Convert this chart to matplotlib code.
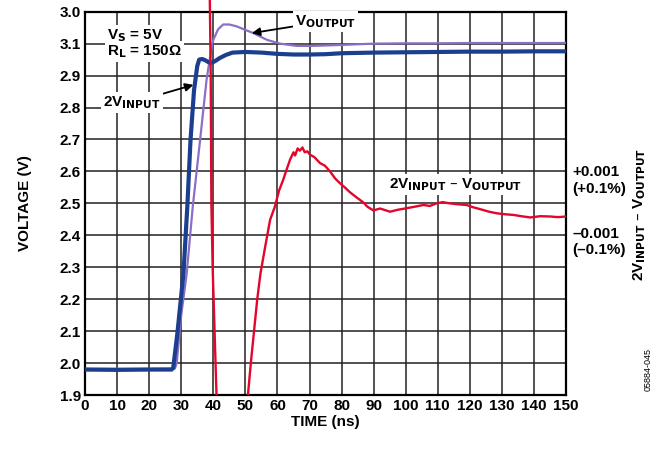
import matplotlib
matplotlib.use("Agg")
import matplotlib.pyplot as plt
from matplotlib.patches import Rectangle

plt.rcParams['font.family'] = ['Liberation Sans', 'DejaVu Sans']
plt.rcParams['font.weight'] = 'bold'
plt.rcParams['mathtext.default'] = 'bf'

# 2V_INPUT trace
t_in = [0, 10, 20, 27, 27.5, 28.8, 30.7, 31.9, 32.9, 34.0, 35.0, 35.6, 36.5, 37.5,
        38.5, 39.5, 40.5, 42, 44, 46, 50, 55, 60, 65, 70, 75, 80, 90, 100, 110,
        120, 130, 140, 150]
v_in = [1.98, 1.979, 1.98, 1.98, 1.985, 2.093, 2.281, 2.49, 2.699, 2.855, 2.93, 2.95,
        2.952, 2.948, 2.942, 2.94, 2.945, 2.955, 2.965, 2.972, 2.974, 2.972, 2.968,
        2.966, 2.966, 2.967, 2.97, 2.972, 2.973, 2.974, 2.975, 2.975, 2.976, 2.976]

# V_OUTPUT trace
t_out = [0, 10, 20, 28, 28.6, 30, 31.7, 33.6, 35.9, 37.9, 39.5, 40.0, 41.5, 43.1, 45,
         47.3, 50, 52.5, 56.7, 60.8, 66, 71.2, 80, 90, 100, 110, 120, 130, 140, 150]
v_out = [1.982, 1.982, 1.982, 1.983, 2.0, 2.15, 2.28, 2.49, 2.70, 2.887, 2.99, 3.012,
         3.045, 3.06, 3.06, 3.054, 3.043, 3.033, 3.012, 3.0, 2.993, 2.993, 2.996, 3.0,
         3.001, 3.001, 3.002, 3.002, 3.002, 3.002]

# 2V_INPUT - V_OUTPUT (plotted on the voltage grid, 2.5 = 0)
t_diff = [38.9, 39.2, 39.4, 39.8, 40.4, 41.0, 41.4, 45.0, 50.3, 50.8, 51.7, 52.7, 53.7,
          54.7, 56.1, 57.7, 59.2, 60.5, 61.8, 63.0, 63.9, 65.0, 65.5, 66.3, 67.0, 67.8,
          68.5, 69.3, 70.2, 71.5, 73.3, 74.8, 76.4, 78.0, 79.5, 81.0, 82.6, 84.5, 86.8,
          88.0, 89.9, 92.0, 95.1, 97.5, 100.3, 103.0, 105.5, 107.5, 109.6, 111.5, 113.8,
          116.5, 119.0, 121.0, 123.2, 126.0, 128.4, 131.0, 133.5, 136.0, 138.8, 142.0,
          145.0, 147.5, 150.0]
v_diff = [3.15, 2.9, 2.5, 2.3, 2.1, 1.9, 1.8, 1.0, 1.8, 1.9, 2.0, 2.1, 2.2, 2.28, 2.36,
          2.448, 2.49, 2.54, 2.574, 2.61, 2.636, 2.66, 2.65, 2.672, 2.665, 2.675, 2.66,
          2.663, 2.652, 2.645, 2.626, 2.618, 2.6, 2.578, 2.563, 2.55, 2.535, 2.52, 2.503,
          2.49, 2.478, 2.484, 2.474, 2.48, 2.485, 2.49, 2.495, 2.492, 2.50, 2.504, 2.50,
          2.497, 2.495, 2.488, 2.482, 2.474, 2.469, 2.466, 2.464, 2.46, 2.456, 2.46,
          2.459, 2.457, 2.459]

y_ticks = [1.9, 2.0, 2.1, 2.2, 2.3, 2.4, 2.5, 2.6, 2.7, 2.8, 2.9, 3.0, 3.1]
y_labels = ['1.9', '2.0', '2.1', '2.2', '2.3', '2.4', '2.5', '2.6', '2.7', '2.8',
            '2.9', '3.1', '3.0']
x_ticks = list(range(0, 151, 10))

fs = 11
fig = plt.figure(figsize=(6.59, 4.5), dpi=100)
ax = fig.add_axes([0.129, 0.122, 0.730, 0.852])

ax.plot(t_out, v_out, color='#8B6FC4', lw=1.6, zorder=3)
ax.plot(t_in, v_in, color='#1B3E8E', lw=3.0, zorder=4)
red, = ax.plot(t_diff, v_diff, color='#E2062C', lw=1.7, zorder=5)
red.set_clip_path(Rectangle((0, 0), 1, 1.1, transform=ax.transAxes))

ax.set_xlim(0, 150)
ax.set_ylim(1.9, 3.1)
ax.set_xticks(x_ticks)
ax.set_yticks(y_ticks)
ax.set_yticklabels(y_labels)
ax.tick_params(length=0, labelsize=fs, pad=3)
for lab in ax.get_xticklabels() + ax.get_yticklabels():
    lab.set_fontweight('bold')
ax.grid(True, color='#222222', lw=1.1)
ax.set_axisbelow(True)
for sp in ax.spines.values():
    sp.set_linewidth(1.6)

ax.set_xlabel('TIME (ns)', fontsize=fs, fontweight='bold', labelpad=1)
ax.set_ylabel('VOLTAGE (V)', fontsize=fs, fontweight='bold', labelpad=20)

box = dict(facecolor='white', edgecolor='none', pad=1.5)
ax.text(6.9, 3.025, r'V$_S$ = 5V', fontsize=fs, fontweight='bold',
        va='center', ha='left', bbox=box, zorder=6)
ax.text(6.9, 2.975, r'R$_L$ = 150Ω', fontsize=fs, fontweight='bold',
        va='center', ha='left', bbox=box, zorder=6)
ax.annotate(r'2V$_{INPUT}$', xy=(33.8, 2.871), xytext=(5.6, 2.815),
            fontsize=fs, fontweight='bold', va='center', ha='left', bbox=box, zorder=6,
            arrowprops=dict(arrowstyle='-|>', color='black', lw=1.3,
                            shrinkA=0, shrinkB=0, mutation_scale=12))
ax.annotate(r'V$_{OUTPUT}$', xy=(52.0, 3.033), xytext=(65.5, 3.07),
            fontsize=fs, fontweight='bold', va='center', ha='left', bbox=box, zorder=6,
            arrowprops=dict(arrowstyle='-|>', color='black', lw=1.3,
                            shrinkA=0, shrinkB=0, mutation_scale=12))
ax.text(115.6, 2.558, r'2V$_{INPUT}$ – V$_{OUTPUT}$', fontsize=fs,
        fontweight='bold', va='center', ha='center', bbox=box, zorder=6)

tr = ax.get_yaxis_transform()
for yv, s in [(2.599, '+0.001'), (2.545, '(+0.1%)'), (2.404, '–0.001'), (2.354, '(–0.1%)')]:
    ax.text(1.0125, yv, s, transform=tr, fontsize=fs, fontweight='bold',
            va='center', ha='left')
ax.text(1.152, 2.464, r'2V$_{INPUT}$ – V$_{OUTPUT}$', transform=tr,
        fontsize=fs, fontweight='bold', rotation=90, va='center', ha='center')

fig.text(0.983, 0.178, '05884-045', fontsize=6.5, fontweight='normal',
         rotation=90, va='center', ha='center')

fig.savefig('out.png', dpi=100)
